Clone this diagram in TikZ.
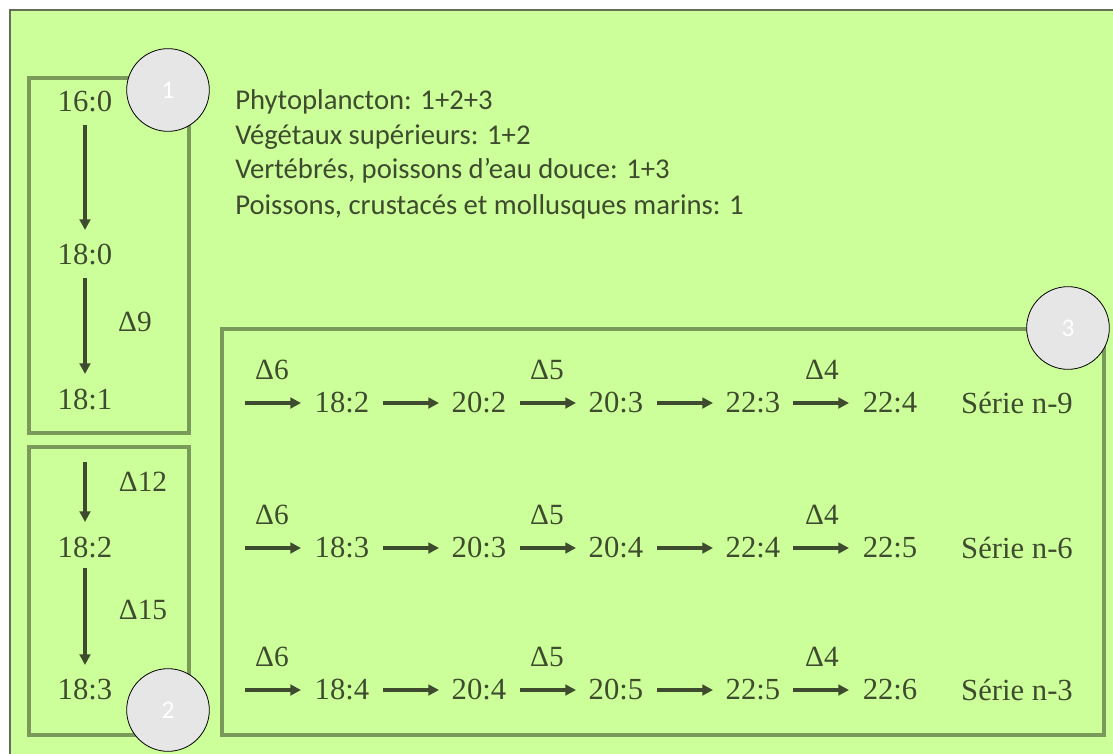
\documentclass[tikz,border=0pt]{standalone}
\usepackage{fontspec}
\setmainfont{Liberation Serif}
\newfontfamily\calib{Carlito}
\usetikzlibrary{arrows.meta}
\definecolor{bg}{HTML}{CCFF99}
\definecolor{boxc}{HTML}{7A9A5A}
\definecolor{ink}{HTML}{3E4B2E}
\definecolor{circ}{HTML}{E6E6E6}
\begin{document}
\begin{tikzpicture}[x=0.75pt,y=-0.75pt,
  grp/.style={draw=boxc,line width=2.6pt},
  num/.style={text=ink,font=\fontsize{23}{26}\selectfont,inner sep=0pt,anchor=center},
  dlt/.style={text=ink,font=\fontsize{22}{26}\selectfont,inner sep=0pt,anchor=center},
  arr/.style={draw=ink,line width=3pt,-{Triangle[length=8pt,width=8pt]}},
  badge/.style={circle,draw=black,line width=0.6pt,fill=circ,minimum size=62pt,inner sep=0pt,text=white,font=\calib\fontsize{19}{21}\selectfont},
  info/.style={text=ink,font=\calib\fontsize{21.5}{25}\selectfont,anchor=west,inner sep=0pt}]
\useasboundingbox (0,0) rectangle (1113,753);
\fill[white] (0,0) rectangle (1113,753);
\draw[fill=bg,draw=ink!80,line width=1pt] (10,10) rectangle (1130,770);
% boxes
\draw[grp] (29,78) rectangle (189,433);
\draw[grp] (29,447) rectangle (189,735);
\draw[grp] (222,329) rectangle (1104,735);
% box 1
\node[num] (a160) at (85,102) {16:0};
\node[num] (a180) at (85,255) {18:0};
\node[num] (a181) at (85,400) {18:1};
\draw[arr] (85,125) -- (85,230);
\draw[arr] (85,278) -- (85,374);
\node[dlt] (d9) at (135,322) {Δ9};
% box 2
\coordinate (top2) at (85,462);
\node[num] (b182) at (85,548) {18:2};
\node[num] (b183) at (85,690) {18:3};
\draw[arr] (top2) -- (85,522);
\draw[arr] (85,568) -- (85,665);
\node[dlt] (d12) at (143,482) {Δ12};
\node[dlt] (d15) at (143,610) {Δ15};
% info text
\node[info] (i1) at (235,102) {Phytoplancton: 1+2+3};
\node[info] (i2) at (235,137) {Végétaux supérieurs: 1+2};
\node[info] (i3) at (235,171) {Vertébrés, poissons d’eau douce: 1+3};
\node[info] (i4) at (235,207) {Poissons, crustacés et mollusques marins: 1};
% rows
\foreach \r/\y/\a/\b/\c/\d/\e/\s in {1/403/18:2/20:2/20:3/22:3/22:4/9, 2/548/18:3/20:3/20:4/22:4/22:5/6, 3/690/18:4/20:4/20:5/22:5/22:6/3}{
  \coordinate (s\r) at (245,\y);
  \node[num] (n\r a) at (342,\y) {\a};
  \node[num] (n\r b) at (479,\y) {\b};
  \node[num] (n\r c) at (616,\y) {\c};
  \node[num] (n\r d) at (753,\y) {\d};
  \node[num] (n\r e) at (890,\y) {\e};
  \node[num] (ser\r) at (1017,\y) {Série n-\s};
  \draw[arr] (s\r) -- ++(56,0);
  \draw[arr] (383,\y) -- (439,\y);
  \draw[arr] (520,\y) -- (576,\y);
  \draw[arr] (657,\y) -- (713,\y);
  \draw[arr] (793,\y) -- (849,\y);
  \node[dlt] at (272,\y-33) {Δ6};
  \node[dlt] at (547,\y-33) {Δ5};
  \node[dlt] at (822,\y-33) {Δ4};
}
% badges
\node[badge] (c1) at (168,90) {1};
\node[badge] (c2) at (168,710) {2};
\node[badge] (c3) at (1068,328) {3};
\end{tikzpicture}
\end{document}
